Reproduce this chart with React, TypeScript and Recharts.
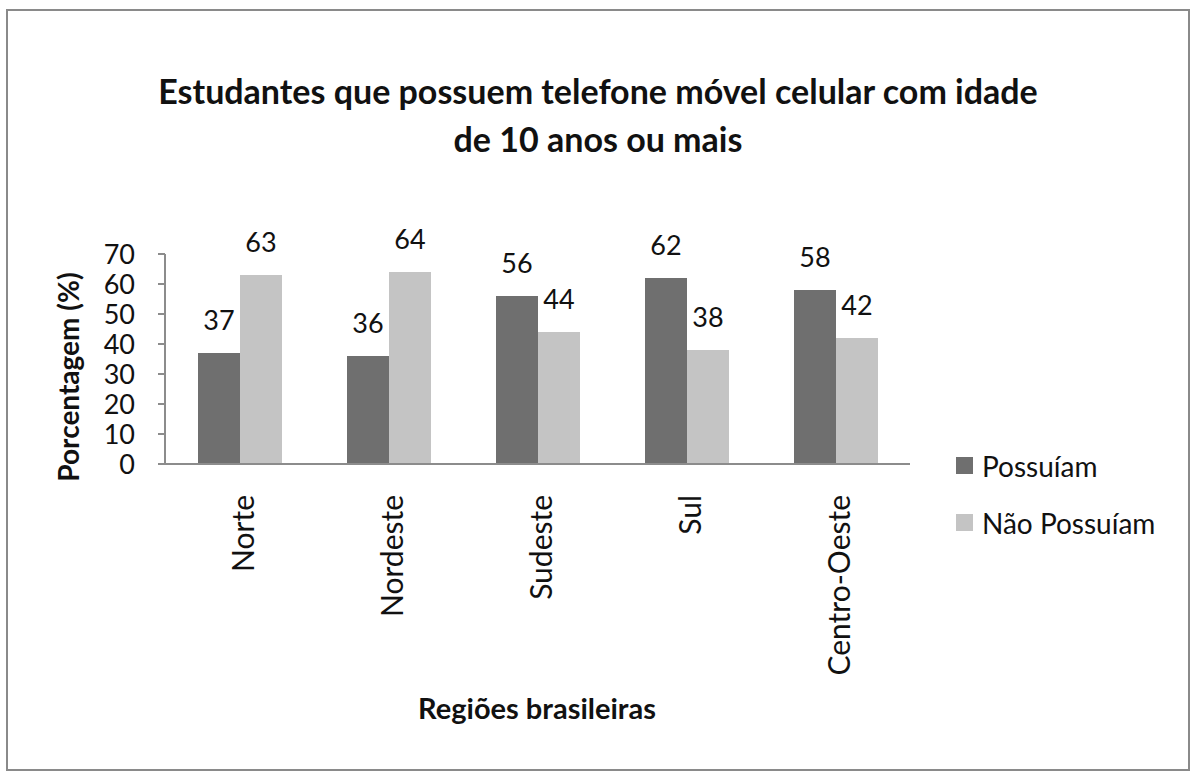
import React from "react";
import { Bar, BarChart, LabelList, Legend, XAxis, YAxis } from "recharts";

const regions = ["Norte", "Nordeste", "Sudeste", "Sul", "Centro-Oeste"];
const possuiam = [37, 36, 56, 62, 58];
const naoPossuiam = [63, 64, 44, 38, 42];
const yTicks = [0, 10, 20, 30, 40, 50, 60, 70];

const seriesNames = ["Possuíam", "Não Possuíam"];
const DARK = "#6f6f6f";
const LIGHT = "#c4c4c4";
const AXIS = "#8c8c8c";
const FONT = "Lato, 'Open Sans', sans-serif";

const chartData = regions.map((region, i) => ({
  region,
  possuiam: possuiam[i],
  naoPossuiam: naoPossuiam[i],
}));

// rotated category labels, read bottom to top
const RegionTick = ({ x, y, payload }: any) => {
  const ty = y + 31;
  return (
    <text
      x={x + 2}
      y={ty}
      transform={`rotate(-90 ${x + 2} ${ty})`}
      textAnchor="end"
      dominantBaseline="central"
      fontFamily={FONT}
      fontSize={30}
      fill="#111"
    >
      {payload.value}
    </text>
  );
};

const LegendBox = () => (
  <div style={{ fontFamily: FONT, fontSize: 28, color: "#111" }}>
    {seriesNames.map((name, i) => (
      <div
        key={name}
        style={{ display: "flex", alignItems: "center", height: 57 }}
      >
        <span
          style={{
            display: "inline-block",
            width: 17,
            height: 17,
            background: i === 0 ? DARK : LIGHT,
            marginRight: 9,
          }}
        />
        {name}
      </div>
    ))}
  </div>
);

export default function App() {
  return (
    <div
      style={{
        position: "absolute",
        left: 0,
        top: 0,
        width: 1200,
        height: 777,
        background: "#fff",
      }}
    >
      {/* chart frame */}
      <div
        style={{
          position: "absolute",
          left: 6,
          top: 9,
          width: 1180,
          height: 758,
          border: "2px solid #8a8a8a",
        }}
      />
      <svg
        width={1200}
        height={200}
        style={{ position: "absolute", left: 0, top: 0 }}
      >
        <text
          x={598}
          y={104}
          textAnchor="middle"
          fontFamily={FONT}
          fontWeight="bold"
          fontSize={34}
          fill="#111"
        >
          Estudantes que possuem telefone móvel celular com idade
        </text>
        <text
          x={598}
          y={152}
          textAnchor="middle"
          fontFamily={FONT}
          fontWeight="bold"
          fontSize={34}
          fill="#111"
        >
          de 10 anos ou mais
        </text>
      </svg>
      <div style={{ position: "absolute", left: 0, top: 0 }}>
        <BarChart
          width={1200}
          height={777}
          data={chartData}
          margin={{ top: 254, right: 290, left: 0, bottom: 0 }}
          barGap={0}
          barSize={42}
        >
          <XAxis
            dataKey="region"
            height={313}
            stroke={AXIS}
            strokeWidth={2}
            tickLine={false}
            tickSize={0}
            tickMargin={0}
            interval={0}
            tick={<RegionTick />}
            label={{
              content: () => (
                <text
                  x={537}
                  y={719}
                  textAnchor="middle"
                  fontFamily={FONT}
                  fontWeight="bold"
                  fontSize={29}
                  fill="#111"
                >
                  Regiões brasileiras
                </text>
              ),
            }}
          />
          <YAxis
            width={165}
            domain={[0, 70]}
            ticks={yTicks}
            interval={0}
            stroke={AXIS}
            strokeWidth={2}
            tickSize={7}
            tickMargin={23}
            tick={{ fontFamily: FONT, fontSize: 27, fill: "#111" }}
            label={{
              content: () => (
                <text
                  x={68}
                  y={377}
                  transform="rotate(-90 68 377)"
                  textAnchor="middle"
                  dominantBaseline="central"
                  fontFamily={FONT}
                  fontWeight="bold"
                  fontSize={28}
                  fill="#111"
                >
                  Porcentagem (%)
                </text>
              ),
            }}
          />
          <Legend
            layout="vertical"
            align="center"
            verticalAlign="middle"
            width={230}
            wrapperStyle={{ left: 956, top: 437 }}
            content={<LegendBox />}
          />
          <Bar
            dataKey="possuiam"
            name={seriesNames[0]}
            fill={DARK}
            isAnimationActive={false}
          >
            <LabelList
              dataKey="possuiam"
              position="top"
              offset={23}
              fontFamily={FONT}
              fontSize={27}
              fill="#111"
            />
          </Bar>
          <Bar
            dataKey="naoPossuiam"
            name={seriesNames[1]}
            fill={LIGHT}
            isAnimationActive={false}
          >
            <LabelList
              dataKey="naoPossuiam"
              position="top"
              offset={23}
              fontFamily={FONT}
              fontSize={27}
              fill="#111"
            />
          </Bar>
        </BarChart>
      </div>
    </div>
  );
}
